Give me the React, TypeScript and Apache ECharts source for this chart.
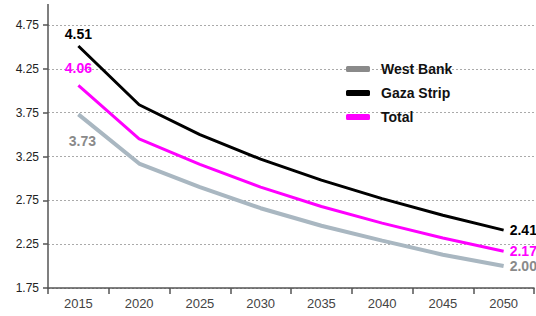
import React, { useEffect, useRef } from "react";
import * as echarts from "echarts";

const years = ["2015", "2020", "2025", "2030", "2035", "2040", "2045", "2050"];
const westBank = [3.73, 3.17, 2.9, 2.66, 2.46, 2.29, 2.13, 2.0];
const gazaStrip = [4.51, 3.84, 3.5, 3.22, 2.98, 2.77, 2.58, 2.41];
const total = [4.06, 3.45, 3.16, 2.9, 2.68, 2.49, 2.32, 2.17];

const font = "Liberation Sans, Arial, sans-serif";

function withLabels(values: number[], color: string, firstPos: string, firstOffset: number[]) {
  return values.map((v, i) => {
    if (i === 0) {
      return {
        value: v,
        label: { show: true, position: firstPos, offset: firstOffset, color, fontWeight: "bold", fontSize: 14, fontFamily: font, formatter: (p: any) => p.value.toFixed(2) },
      };
    }
    if (i === values.length - 1) {
      return {
        value: v,
        label: { show: true, position: "right", distance: 6, color, fontWeight: "bold", fontSize: 14, fontFamily: font, formatter: (p: any) => p.value.toFixed(2) },
      };
    }
    return v;
  });
}

export default function App() {
  const ref = useRef<HTMLDivElement>(null);
  useEffect(() => {
    const chart = echarts.init(ref.current!, null, { renderer: "svg" });
    const common = { type: "line", symbol: "circle", symbolSize: 0.1, showSymbol: true };
    chart.setOption({
      animation: false,
      backgroundColor: "#ffffff",
      grid: { left: 48, right: 2, top: 25, bottom: 28, containLabel: false },
      legend: {
        orient: "vertical",
        left: 341,
        top: 57,
        itemWidth: 24,
        itemHeight: 6,
        itemGap: 10,
        icon: "roundRect",
        textStyle: { fontFamily: font, fontSize: 14, fontWeight: "bold", color: "#111", padding: [0, 0, 0, 6] },
        data: [
          { name: "West Bank", itemStyle: { color: "#8a8a8a" } },
          { name: "Gaza Strip", itemStyle: { color: "#000000" } },
          { name: "Total", itemStyle: { color: "#ff00ff" } },
        ],
      },
      xAxis: {
        type: "category",
        data: years,
        boundaryGap: true,
        axisLine: { lineStyle: { color: "#555", width: 1.5 } },
        axisTick: { show: true, length: 6, lineStyle: { color: "#555", width: 1.5 } },
        axisLabel: { color: "#444", fontSize: 13, fontFamily: font, margin: 9 },
      },
      yAxis: {
        type: "value",
        min: 1.75,
        max: 4.75,
        interval: 0.5,
        axisLine: { show: true, lineStyle: { color: "#555", width: 1.5 } },
        axisTick: { show: true, length: 5, lineStyle: { color: "#555", width: 1.5 } },
        axisLabel: { color: "#222", fontSize: 12, fontFamily: font, margin: 9, formatter: (v: number) => v.toFixed(2) },
        splitLine: { show: true, lineStyle: { color: "#aaa", type: [2, 2], width: 1 } },
      },
      graphic: [
        { type: "line", shape: { x1: 48, y1: 4, x2: 48, y2: 25 }, style: { stroke: "#555", lineWidth: 1.5 } },
      ],
      series: [
        {
          ...common,
          name: "West Bank",
          data: withLabels(westBank, "#8a8a8a", "bottom", [4, 15]),
          lineStyle: { color: "#a9b7c1", width: 4 },
          itemStyle: { color: "#8a8a8a" },
          z: 2,
        },
        {
          ...common,
          name: "Gaza Strip",
          data: withLabels(gazaStrip, "#000000", "top", [0, 0]),
          lineStyle: { color: "#000000", width: 3 },
          itemStyle: { color: "#000000" },
          z: 3,
        },
        {
          ...common,
          name: "Total",
          data: withLabels(total, "#ff00ff", "top", [0, -5]),
          lineStyle: { color: "#ff00ff", width: 3 },
          itemStyle: { color: "#ff00ff" },
          z: 3,
        },
      ],
    });
    return () => chart.dispose();
  }, []);
  return <div ref={ref} style={{ position: "fixed", left: 0, top: 0, width: 536, height: 316 }} />;
}
